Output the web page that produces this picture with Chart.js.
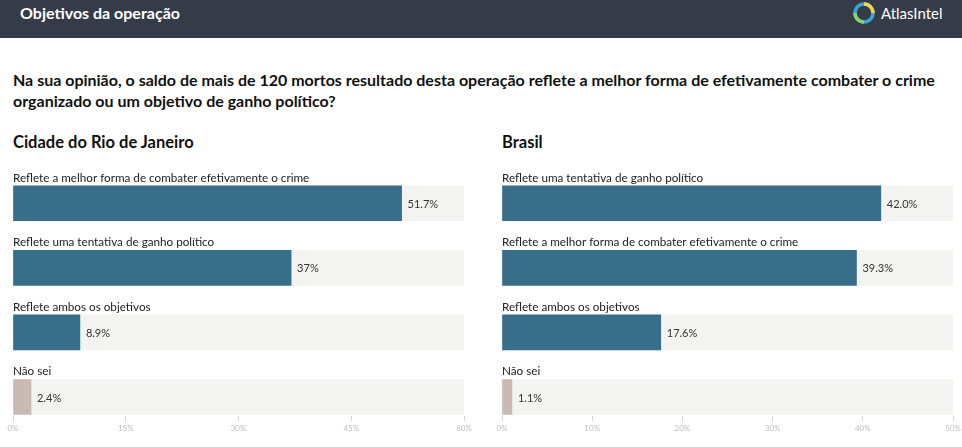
<!DOCTYPE html>
<html lang="pt">
<head>
<meta charset="UTF-8">
<title>Objetivos da operação</title>
<script src="https://cdn.jsdelivr.net/npm/chart.js"></script>
<style>
  body { margin: 0; width: 962px; height: 447px; background: #fff; font-family: Lato, "Noto Sans", sans-serif; position: relative; overflow: hidden; }
  .header { position: absolute; left: 0; top: 0; width: 962px; height: 38px; background: #363b48; }
  .header .title { position: absolute; left: 20px; top: 3px; color: #fff; font-weight: bold; font-size: 16px; }
  .header .logo { position: absolute; left: 853px; top: 2px; display: flex; align-items: center; color: #fff; font-size: 15px; }
  .header .logo svg { margin-right: 6px; }
  .question { position: absolute; left: 13px; top: 69px; width: 945px; font-weight: bold; font-size: 16px; line-height: 21px; color: #111; }
  .panel-title { position: absolute; top: 132px; font-weight: bold; font-size: 16.5px; color: #111; }
  .box { position: absolute; top: 160px; width: 481px; height: 287px; }
</style>
</head>
<body>
  <div class="header">
    <div class="title">Objetivos da operação</div>
    <div class="logo">
      <svg width="22" height="22" viewBox="0 0 22 22">
        <circle cx="11" cy="11" r="9" fill="none" stroke="#3aa6d8" stroke-width="3.5"/>
        <path d="M11 2 A9 9 0 0 1 20 11" fill="none" stroke="#f2d64b" stroke-width="3.5"/>
        <path d="M2 11 A9 9 0 0 0 11 20" fill="none" stroke="#8fd16a" stroke-width="3.5"/>
        <path d="M11 5 L17 11 L11 17 L5 11 Z" fill="#363b48"/>
      </svg>
      <span>AtlasIntel</span>
    </div>
  </div>

  <div class="question">Na sua opinião, o saldo de mais de 120 mortos resultado desta operação reflete a melhor forma de efetivamente combater o crime organizado ou um objetivo de ganho político?</div>

  <div class="panel-title" style="left:13px">Cidade do Rio de Janeiro</div>
  <div class="panel-title" style="left:502px">Brasil</div>

  <div class="box" style="left:0"><canvas id="rioChart"></canvas></div>
  <div class="box" style="left:489px"><canvas id="brChart"></canvas></div>

<script>
const rioLabels = ['Reflete a melhor forma de combater efetivamente o crime', 'Reflete uma tentativa de ganho político', 'Reflete ambos os objetivos', 'Não sei'];
const rioValues = [51.7, 37, 8.9, 2.4];
const rioValueText = ['51.7%', '37%', '8.9%', '2.4%'];
const rioTicks = [0, 15, 30, 45, 60];

const brLabels = ['Reflete uma tentativa de ganho político', 'Reflete a melhor forma de combater efetivamente o crime', 'Reflete ambos os objetivos', 'Não sei'];
const brValues = [42.0, 39.3, 17.6, 1.1];
const brValueText = ['42.0%', '39.3%', '17.6%', '1.1%'];
const brTicks = [0, 10, 20, 30, 40, 50];

const BLUE = '#376f8a';
const GREY = '#c9bbb3';
const TRACK = '#f3f3f1';

// labels over each bar and value text after the bar end
const barText = {
    id: 'barText',
    afterDatasetsDraw(chart, args, opts) {
        const ctx = chart.ctx;
        const meta = chart.getDatasetMeta(0);
        ctx.save();
        meta.data.forEach((bar, i) => {
            const top = bar.y - bar.height / 2;
            ctx.fillStyle = '#222';
            ctx.font = '11.7px Lato';
            ctx.textAlign = 'left';
            ctx.textBaseline = 'bottom';
            ctx.fillText(opts.labels[i], chart.chartArea.left, top - 2);
            ctx.fillStyle = '#333';
            ctx.font = '11px Lato';
            ctx.textBaseline = 'middle';
            ctx.fillText(opts.valueText[i], bar.x + 6, bar.y + 1);
        });
        ctx.restore();
    }
};

function makeChart(id, labels, values, valueText, ticks, padLeft) {
    const max = ticks[ticks.length - 1];
    const step = ticks[1] - ticks[0];
    new Chart(document.getElementById(id), {
        type: 'bar',
        data: {
            datasets: [
                {
                    data: values.map((v, i) => ({ x: v, y: i })),
                    backgroundColor: values.map((v, i) => i === values.length - 1 ? GREY : BLUE),
                    barThickness: 35,
                    grouped: false,
                    order: 0
                },
                {
                    data: values.map((v, i) => ({ x: max, y: i })),
                    backgroundColor: TRACK,
                    barThickness: 35,
                    grouped: false,
                    order: 1
                }
            ]
        },
        options: {
            indexAxis: 'y',
            responsive: true,
            maintainAspectRatio: false,
            animation: false,
            layout: { padding: { left: padLeft, right: 17, top: 11, bottom: 12 } },
            plugins: {
                legend: { display: false },
                tooltip: { enabled: false },
                barText: { labels: labels, valueText: valueText }
            },
            scales: {
                y: {
                    type: 'linear',
                    reverse: true,
                    offset: false,
                    grid: { offset: false },
                    min: -0.5,
                    max: 3.3,
                    display: false
                },
                x: {
                    min: 0,
                    max: max,
                    border: { display: false },
                    grid: { drawOnChartArea: false, tickLength: 5, color: '#d6d6d6' },
                    ticks: {
                        stepSize: step,
                        padding: 2,
                        color: '#bdbdbd',
                        font: { family: 'Lato', size: 8 },
                        maxRotation: 0,
                        callback: v => v + '%'
                    }
                }
            }
        },
        plugins: [barText]
    });
}

makeChart('rioChart', rioLabels, rioValues, rioValueText, rioTicks, 13);
makeChart('brChart', brLabels, brValues, brValueText, brTicks, 13);
</script>
</body>
</html>
